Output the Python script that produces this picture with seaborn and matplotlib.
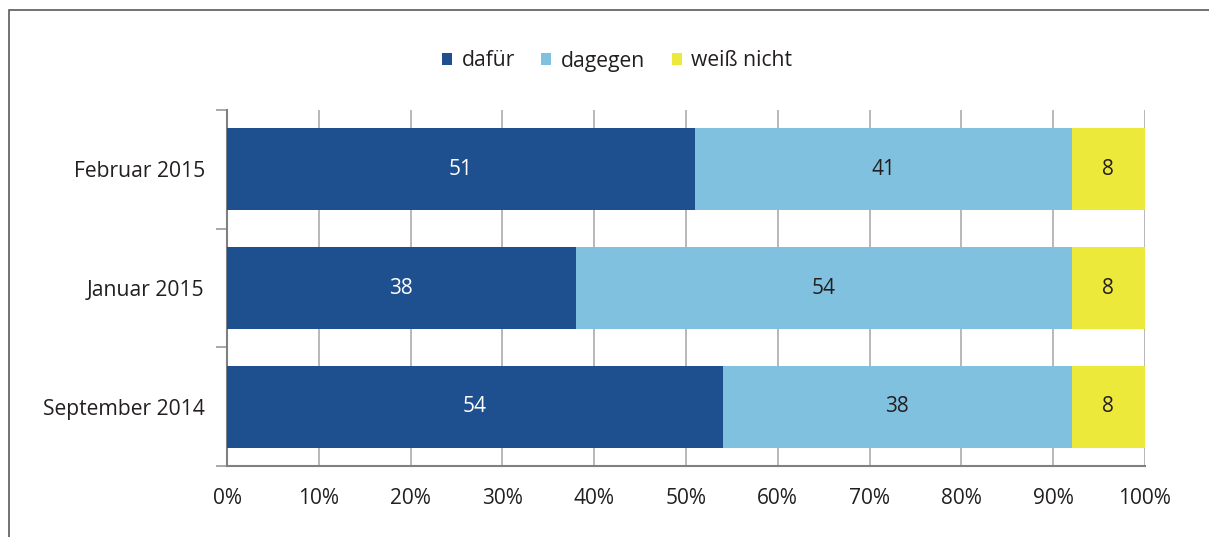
import matplotlib
matplotlib.use("Agg")
import matplotlib.pyplot as plt
from matplotlib.patches import Patch, Rectangle
import seaborn as sns
import pandas as pd
import numpy as np

categories = ["Februar 2015", "Januar 2015", "September 2014"]
dafuer = [51, 38, 54]
dagegen = [41, 54, 38]
weiss_nicht = [8, 8, 8]
series_names = ["dafür", "dagegen", "weiß nicht"]
colors = ["#1E4F8F", "#80C1DF", "#EDE93A"]
text_colors = ["white", "#231F20", "#231F20"]
xtick_labels = ["0%", "10%", "20%", "30%", "40%", "50%", "60%", "70%", "80%", "90%", "100%"]

sns.set_style("white")
plt.rcParams["font.family"] = ["Open Sans", "DejaVu Sans"]

fig = plt.figure(figsize=(12.09, 5.37), dpi=100)
ax = fig.add_axes([227 / 1209, 1 - 466 / 537, (1145 - 227) / 1209, (466 - 110) / 537])

series = [dafuer, dagegen, weiss_nicht]
cum = np.cumsum(np.array(series), axis=0)
# draw layers from the outermost (cumulative) to the innermost
for i in range(len(series) - 1, -1, -1):
    df = pd.DataFrame({"cat": categories, "val": cum[i]})
    sns.barplot(data=df, x="val", y="cat", orient="h", color=colors[i],
                saturation=1, width=0.69, ax=ax, linewidth=0, zorder=3)

for i, s in enumerate(series):
    left = cum[i] - np.array(s)
    for j, v in enumerate(s):
        ax.text(left[j] + v / 2, j, str(v), ha="center", va="center",
                color=text_colors[i], fontsize=15, zorder=5)

ax.set_xlim(0, 100)
ax.set_ylim(2.5, -0.5)
ax.set_xticks(np.arange(0, 101, 10))
ax.set_xticklabels(xtick_labels, fontsize=15, color="#231F20")
ax.set_yticks(range(len(categories)))
ax.set_yticklabels(categories, fontsize=15.2, color="#231F20")
ax.tick_params(axis="y", length=0, pad=16)
ax.tick_params(axis="x", length=7, width=1.2, color="#9A9A9E", pad=9, direction="out")
ax.set_yticks([-0.5, 0.5, 1.5, 2.5], minor=True)
ax.tick_params(axis="y", which="minor", length=8, width=1.2, color="#9A9A9E", left=True)
ax.set_xlabel("")
ax.set_ylabel("")

ax.grid(axis="x", color="#ACACB0", linewidth=1.2, zorder=0)
ax.set_axisbelow(True)
for side in ["top", "right"]:
    ax.spines[side].set_visible(False)
for side in ["left", "bottom"]:
    ax.spines[side].set_color("#808084")
    ax.spines[side].set_linewidth(1.5)

handles = [Patch(facecolor=c, edgecolor="none") for c in colors]
fig.legend(handles, series_names, loc="center", bbox_to_anchor=(617 / 1209, 1 - 61 / 537),
           ncol=3, frameon=False, fontsize=15.2, handlelength=0.48, handleheight=0.48,
           handletextpad=0.45, columnspacing=1.25, labelcolor="#231F20")

fig.patches.append(Rectangle((9 / 1209, -0.05), 1.2, 1 - 10 / 537 + 0.05,
                             transform=fig.transFigure, fill=False,
                             edgecolor="#5A5A5A", linewidth=1.2))

fig.savefig("out.png", dpi=100)
